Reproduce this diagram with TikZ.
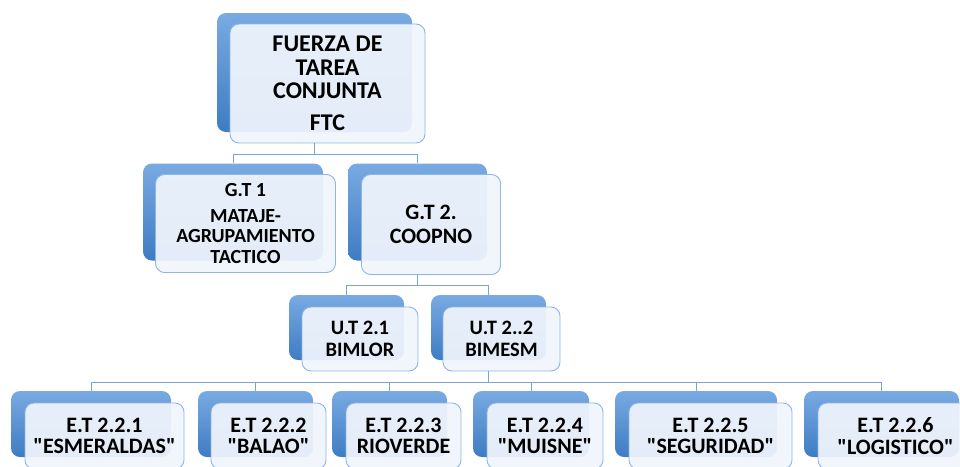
\documentclass[tikz,border=0pt]{standalone}
\usepackage{fontspec}
\setmainfont{Carlito}[Ligatures=TeXOff]
\definecolor{boxtop}{HTML}{79AAE2}
\definecolor{boxbot}{HTML}{3E7CC3}
\definecolor{boxfill}{HTML}{F0F5FC}
\definecolor{boxline}{HTML}{8FB5E3}
\definecolor{linkcol}{HTML}{7CA3D4}
\tikzset{
  back/.style={rounded corners=9pt, top color=boxtop, bottom color=boxbot, draw=none, inner sep=0pt},
  front/.style={rounded corners=9pt, fill=boxfill, fill opacity=0.93, text opacity=1, draw=boxline, line width=0.9pt, inner sep=0pt, align=center},
  link/.style={draw=linkcol, line width=0.9pt}
}
\begin{document}
\begin{tikzpicture}[x=1pt,y=-1pt]
	\useasboundingbox (0,0) rectangle (960,466);
	\clip (0,0) rectangle (960,466);
	\coordinate (bus1) at (0,154);
	\coordinate (bus2) at (0,285);
	\coordinate (bus3) at (0,382);
	% first level
	\node [back, minimum width=195pt, minimum height=119pt] (ftc-b) at (314.5,72.5) {};
	\node [front, minimum width=195pt, minimum height=119pt, font=\bfseries\fontsize{24}{23.5}\selectfont] (ftc) at (327.5,83.5) {FUERZA DE\\TAREA\\CONJUNTA\\[8pt]FTC};
	% second level
	\node [back, minimum width=180pt, minimum height=97pt] (gt1-b) at (233,212) {};
	\node [front, minimum width=180pt, minimum height=98pt, font=\bfseries\fontsize{20}{20.5}\selectfont] (gt1) at (245.5,223.5) {G.T 1\\[5pt]MATAJE-\\AGRUPAMIENTO\\TACTICO};
	\node [back, minimum width=139pt, minimum height=97pt] (gt2-b) at (417.5,212) {};
	\node [front, minimum width=139pt, minimum height=100pt, font=\bfseries\fontsize{22}{24}\selectfont] (gt2) at (431,224.5) {G.T 2.\\COOPNO};
	% third level
	\node [back, minimum width=115pt, minimum height=65pt] (ut21-b) at (346.5,327.5) {};
	\node [front, minimum width=116pt, minimum height=64pt, font=\bfseries\fontsize{20.5}{22}\selectfont] (ut21) at (360,339) {U.T 2.1\\BIMLOR};
	\node [back, minimum width=115pt, minimum height=65pt] (ut22-b) at (488.5,327.5) {};
	\node [front, minimum width=117pt, minimum height=64pt, font=\bfseries\fontsize{20.5}{22}\selectfont] (ut22) at (501.5,339) {U.T 2..2\\BIMESM};
	% fourth level
	\node [back, minimum width=160pt, minimum height=66pt] (et1-b) at (91,424) {};
	\node [front, minimum width=159pt, minimum height=66pt, font=\bfseries\fontsize{22}{21.5}\selectfont] (et1) at (104.5,436) {E.T 2.2.1\\"ESMERALDAS"};
	\node [back, minimum width=115pt, minimum height=66pt] (et2-b) at (255.5,424) {};
	\node [front, minimum width=115pt, minimum height=66pt, font=\bfseries\fontsize{22}{21.5}\selectfont] (et2) at (268.5,436) {E.T 2.2.2\\"BALAO"};
	\node [back, minimum width=115pt, minimum height=66pt] (et3-b) at (389.5,424) {};
	\node [front, minimum width=115pt, minimum height=66pt, font=\bfseries\fontsize{22}{21.5}\selectfont] (et3) at (403.5,436) {E.T 2.2.3\\RIOVERDE};
	\node [back, minimum width=116pt, minimum height=66pt] (et4-b) at (531,424) {};
	\node [front, minimum width=116pt, minimum height=66pt, font=\bfseries\fontsize{22}{21.5}\selectfont] (et4) at (545,436) {E.T 2.2.4\\"MUISNE"};
	\node [back, minimum width=162pt, minimum height=66pt] (et5-b) at (696,424) {};
	\node [front, minimum width=163pt, minimum height=66pt, font=\bfseries\fontsize{22}{21.5}\selectfont] (et5) at (710.5,436) {E.T 2.2.5\\"SEGURIDAD"};
	\node [back, minimum width=155pt, minimum height=66pt] (et6-b) at (881.5,424) {};
	\node [front, minimum width=155pt, minimum height=66pt, font=\bfseries\fontsize{22}{21.5}\selectfont] (et6) at (895.5,436) {E.T 2.2.6\\"LOGISTICO"};
	% connectors
	\draw [link] (ftc-b |- ftc.south) -- (ftc-b |- bus1) -| (gt1-b.north);
	\draw [link] (ftc-b |- bus1) -| (gt2-b.north);
	\draw [link] (gt2-b |- gt2.south) -- (gt2-b |- bus2) -| (ut21-b.north);
	\draw [link] (gt2-b |- bus2) -| (ut22-b.north);
	\draw [link] (ut22-b |- ut22.south) -- (ut22-b |- bus3);
	\draw [link] (et1-b.north) |- (et6-b |- bus3) -- (et6-b.north);
	\draw [link] (et2-b.north) -- (et2-b |- bus3);
	\draw [link] (et3-b.north) -- (et3-b |- bus3);
	\draw [link] (et4-b.north) -- (et4-b |- bus3);
	\draw [link] (et5-b.north) -- (et5-b |- bus3);
\end{tikzpicture}
\end{document}
